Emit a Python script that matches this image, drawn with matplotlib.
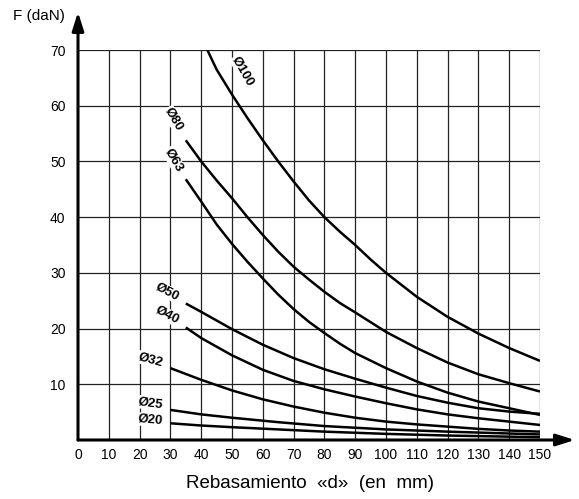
import matplotlib
matplotlib.use("Agg")
import matplotlib.pyplot as plt

plt.rcParams['font.family'] = ['Liberation Sans', 'DejaVu Sans']

# curves: d (mm) -> F (daN)
x_100 = [42, 45, 50, 55, 60, 65, 70, 75, 80, 85, 90, 95, 100, 110, 120, 130, 140, 150]
f_100 = [70, 66.5, 62, 57.8, 53.8, 50, 46.4, 43.0, 40, 37.4, 35, 32.4, 30, 25.7, 22.1, 19.1, 16.5, 14.2]

x_80 = [35, 40, 45, 50, 55, 60, 65, 70, 75, 80, 85, 90, 100, 110, 120, 130, 140, 150]
f_80 = [53.8, 50, 46.6, 43.4, 40.0, 36.8, 33.8, 31.1, 28.8, 26.6, 24.6, 22.9, 19.4, 16.5, 13.9, 11.8, 10.2, 8.7]

x_63 = [35, 40, 45, 50, 55, 60, 65, 70, 75, 80, 85, 90, 100, 110, 120, 130, 140, 150]
f_63 = [46.8, 42.8, 38.7, 35.2, 32.0, 29.0, 26.1, 23.5, 21.2, 19.2, 17.3, 15.6, 12.9, 10.5, 8.5, 6.9, 5.7, 4.5]

x_50 = [35, 40, 50, 60, 70, 80, 90, 100, 110, 120, 130, 140, 150]
f_50 = [24.5, 23, 19.9, 17.1, 14.7, 12.7, 11.0, 9.4, 7.9, 6.7, 5.7, 5.1, 4.7]

x_40 = [35, 40, 50, 60, 70, 80, 90, 100, 110, 120, 130, 140, 150]
f_40 = [20.2, 18.3, 15.2, 12.6, 10.6, 9.1, 7.8, 6.6, 5.5, 4.6, 3.9, 3.3, 2.7]

x_32 = [30, 40, 50, 60, 70, 80, 90, 100, 110, 120, 130, 140, 150]
f_32 = [12.9, 10.8, 8.9, 7.3, 6.0, 4.9, 4.0, 3.3, 2.8, 2.4, 2.0, 1.7, 1.5]

x_25 = [30, 40, 50, 65, 80, 100, 120, 150]
f_25 = [5.4, 4.6, 4.0, 3.2, 2.5, 1.9, 1.5, 1.0]

x_20 = [30, 40, 50, 65, 80, 100, 120, 150]
f_20 = [3.0, 2.6, 2.3, 1.9, 1.5, 1.1, 0.8, 0.5]

curve_labels = ['Ø100', 'Ø80', 'Ø63', 'Ø50', 'Ø40', 'Ø32', 'Ø25', 'Ø20']
curves = [(x_100, f_100), (x_80, f_80), (x_63, f_63), (x_50, f_50),
          (x_40, f_40), (x_32, f_32), (x_25, f_25), (x_20, f_20)]

# label positions (data coords) and rotation
label_pos = [(53.5, 66.2, -60), (31.0, 57.6, -60), (31.0, 50.3, -60),
             (29.0, 26.6, -28), (29.0, 22.4, -28), (23.5, 14.4, -15),
             (23.5, 6.6, -8), (23.5, 3.6, -5)]

xticks = list(range(0, 151, 10))
yticks = list(range(10, 71, 10))

fig = plt.figure(figsize=(5.79, 4.99), dpi=100)
ax = fig.add_axes([78 / 579, 59 / 499, 462 / 579, 390 / 499])
ax.set_xlim(0, 150)
ax.set_ylim(0, 70)
for s in ax.spines.values():
    s.set_visible(False)

# grid
for xv in xticks[1:]:
    ax.plot([xv, xv], [0, 70], color='#222222', lw=0.9, zorder=1)
for yv in yticks:
    ax.plot([0, 150], [yv, yv], color='#222222', lw=0.9, zorder=1)

# curves
for (xs, fs) in curves:
    ax.plot(xs, fs, color='black', lw=1.8, zorder=3, solid_capstyle='butt',
            solid_joinstyle='round')

for lab, (lx, ly, rot) in zip(curve_labels, label_pos):
    ax.text(lx, ly, lab, rotation=rot, ha='center', va='center', fontsize=9.5,
            fontweight='bold', zorder=4, rotation_mode='anchor',
            bbox=dict(facecolor='white', edgecolor='none', pad=0.5))

# axes with arrows
ax.annotate('', xy=(0, 76.8), xytext=(0, 0),
            arrowprops=dict(arrowstyle='-|>,head_width=0.35,head_length=1.1',
                            color='black', lw=2.2, shrinkA=0, shrinkB=0),
            annotation_clip=False, zorder=5)
ax.annotate('', xy=(161.3, 0), xytext=(0, 0),
            arrowprops=dict(arrowstyle='-|>,head_width=0.35,head_length=1.1',
                            color='black', lw=2.2, shrinkA=0, shrinkB=0),
            annotation_clip=False, zorder=5)

ax.set_xticks(xticks)
ax.set_xticklabels([str(v) for v in xticks], fontsize=10)
ax.set_yticks(yticks)
ax.set_yticklabels([str(v) for v in yticks], fontsize=10)
ax.tick_params(length=0, pad=6)
ax.tick_params(axis='y', pad=9)

fig.text(39 / 579, 1 - 16 / 499, 'F (daN)', ha='center', va='center', fontsize=11)
fig.text(310 / 579, 1 - 483 / 499, 'Rebasamiento  «d»  (en  mm)', ha='center',
         va='center', fontsize=13.5)

fig.savefig('out.png', dpi=100)
